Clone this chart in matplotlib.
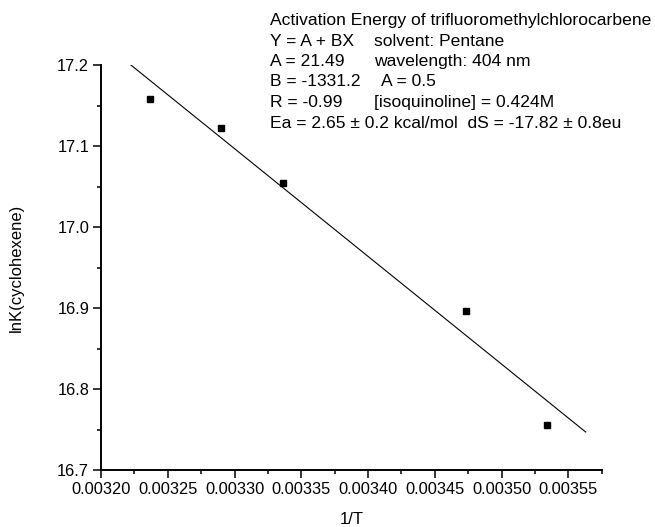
import numpy as np
import matplotlib.pyplot as plt
from matplotlib.ticker import MultipleLocator, FormatStrFormatter

plt.rcParams['font.family'] = ['Liberation Sans', 'DejaVu Sans']

# measured points
inv_T = [0.003237, 0.003290, 0.003336, 0.003473, 0.003534]
lnK = [17.158, 17.122, 17.055, 16.897, 16.755]

# linear fit Y = A + B*X
A = 21.49
B = -1331.2
fit_x = [0.003222, 0.003563]

info_left = ["Y = A + BX", "A = 21.49", "B = -1331.2", "R = -0.99",
             "Ea = 2.65 \u00b1 0.2 kcal/mol  dS = -17.82 \u00b1 0.8eu"]
info_right = ["solvent: Pentane", "wavelength: 404 nm", "A = 0.5",
              "[isoquinoline] = 0.424M", ""]
title = "Activation Energy of trifluoromethylchlorocarbene"

W, H = 655, 527
fig = plt.figure(figsize=(W / 100, H / 100), dpi=100)
ax = fig.add_axes([101 / W, 1 - 470 / H, (601.7 - 101) / W, (470 - 65.3) / H])

fx = np.array(fit_x)
ax.plot(fx, A + B * fx, color='black', lw=0.8)
ax.plot(inv_T, lnK, 's', color='black', ms=4.2)

ax.set_xlim(0.0032, 0.003575)
ax.set_ylim(16.7, 17.2)
ax.xaxis.set_major_locator(MultipleLocator(0.00005))
ax.xaxis.set_minor_locator(MultipleLocator(0.000025))
ax.yaxis.set_major_locator(MultipleLocator(0.1))
ax.yaxis.set_minor_locator(MultipleLocator(0.05))
ax.xaxis.set_major_formatter(FormatStrFormatter('%.5f'))
ax.yaxis.set_major_formatter(FormatStrFormatter('%.1f'))

for s in ['top', 'right']:
    ax.spines[s].set_visible(False)
for s in ['left', 'bottom']:
    ax.spines[s].set_linewidth(1.4)
ax.tick_params(which='major', direction='out', length=5.5, width=1.1, labelsize=11.8, pad=3)
ax.tick_params(which='minor', direction='out', length=3, width=1.1)

ax.set_xlabel("1/T", fontsize=12, labelpad=11)
ax.set_ylabel("lnK(cyclohexene)", fontsize=12, labelpad=24)

fs = 12.6
fig.text(270 / W, 1 - 21 / H, title, fontsize=fs, va='center')
for i, (l, r) in enumerate(zip(info_left, info_right)):
    y = 1 - (41 + 20.5 * i) / H
    fig.text(270 / W, y, l, fontsize=fs, va='center')
    if r:
        x = 381 if r == "A = 0.5" else 374
        fig.text(x / W, y, r, fontsize=fs, va='center')

fig.savefig("out.png", dpi=100)
